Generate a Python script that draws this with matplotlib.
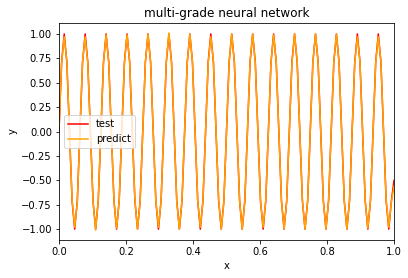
import numpy as np
import matplotlib
matplotlib.use("Agg")
import matplotlib.pyplot as plt

# sample positions: 8 samples per cycle, 16 cycles on [0, 1]
x = np.linspace(0, 1, 129)

# exact target values (one row per cycle)
test = [
    0.00, 0.71, 1.00, 0.71, 0.00, -0.71, -1.00, -0.71,
    0.00, 0.71, 1.00, 0.71, 0.00, -0.71, -1.00, -0.71,
    0.00, 0.71, 1.00, 0.71, 0.00, -0.71, -1.00, -0.71,
    0.00, 0.71, 1.00, 0.71, 0.00, -0.71, -1.00, -0.71,
    0.00, 0.71, 1.00, 0.71, 0.00, -0.71, -1.00, -0.71,
    0.00, 0.71, 1.00, 0.71, 0.00, -0.71, -1.00, -0.71,
    0.00, 0.71, 1.00, 0.71, 0.00, -0.71, -1.00, -0.71,
    0.00, 0.71, 1.00, 0.71, 0.00, -0.71, -1.00, -0.71,
    0.00, 0.71, 1.00, 0.71, 0.00, -0.71, -1.00, -0.71,
    0.00, 0.71, 1.00, 0.71, 0.00, -0.71, -1.00, -0.71,
    0.00, 0.71, 1.00, 0.71, 0.00, -0.71, -1.00, -0.71,
    0.00, 0.71, 1.00, 0.71, 0.00, -0.71, -1.00, -0.71,
    0.00, 0.71, 1.00, 0.71, 0.00, -0.71, -1.00, -0.71,
    0.00, 0.71, 1.00, 0.71, 0.00, -0.71, -1.00, -0.71,
    0.00, 0.71, 1.00, 0.71, 0.00, -0.71, -1.00, -0.71,
    0.00, 0.71, 1.00, 0.71, 0.00, -0.71, -1.00, -0.71,
    -0.50,
]

# network output, slightly off at some tips
predict = [
    0.02, 0.70, 0.97, 0.72, 0.01, -0.70, -0.98, -0.72,
    0.01, 0.72, 0.97, 0.70, 0.00, -0.72, -1.01, -0.70,
    0.00, 0.71, 0.99, 0.71, 0.01, -0.71, -0.99, -0.71,
    0.00, 0.70, 0.99, 0.72, 0.00, -0.70, -1.00, -0.72,
    0.01, 0.71, 1.00, 0.71, 0.00, -0.71, -0.98, -0.71,
    0.00, 0.72, 1.01, 0.70, 0.01, -0.72, -1.00, -0.70,
    0.01, 0.71, 1.00, 0.71, 0.00, -0.71, -0.98, -0.71,
    0.00, 0.70, 0.97, 0.72, 0.00, -0.70, -1.00, -0.72,
    0.00, 0.71, 1.00, 0.71, 0.01, -0.71, -1.00, -0.71,
    0.01, 0.72, 1.00, 0.70, 0.00, -0.72, -0.98, -0.70,
    0.00, 0.71, 0.99, 0.71, 0.00, -0.71, -1.00, -0.71,
    0.00, 0.70, 1.00, 0.72, 0.01, -0.70, -1.00, -0.72,
    0.01, 0.71, 1.00, 0.71, 0.00, -0.71, -1.00, -0.71,
    0.00, 0.72, 1.00, 0.70, 0.00, -0.72, -1.00, -0.70,
    0.00, 0.71, 0.97, 0.71, 0.01, -0.71, -0.99, -0.71,
    0.01, 0.70, 0.97, 0.72, 0.00, -0.70, -0.98, -0.72,
    -0.56,
]

# figure drawn at 72 dpi so text and lines keep the reference's scale
fig = plt.figure(figsize=(408 / 72, 278 / 72), dpi=72)
ax = fig.add_axes([0.1446, 0.1367, 0.8211, 0.7803])

ax.plot(x, test, color="red", label="test")
ax.plot(x, predict, color="orange", label="predict")

ax.set_xlim(0, 1)
ax.set_title("multi-grade neural network")
ax.set_xlabel("x")
ax.set_ylabel("y")
ax.legend(loc="center left")

fig.savefig("out.png", dpi=72)
